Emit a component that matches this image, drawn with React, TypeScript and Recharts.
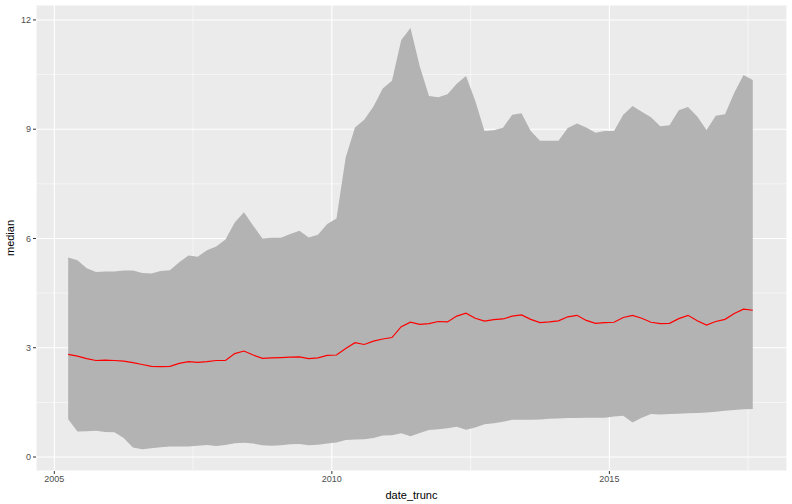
import {
  ComposedChart,
  Area,
  Line,
  XAxis,
  YAxis,
  CartesianGrid,
  Label,
} from 'recharts';

// bi-monthly sample dates (YYYY-MM)
const MONTHS = [
  '2005-04', '2005-06', '2005-08', '2005-10', '2005-12',
  '2006-02', '2006-04', '2006-06', '2006-08', '2006-10', '2006-12',
  '2007-02', '2007-04', '2007-06', '2007-08', '2007-10', '2007-12',
  '2008-02', '2008-04', '2008-06', '2008-08', '2008-10', '2008-12',
  '2009-02', '2009-04', '2009-06', '2009-08', '2009-10', '2009-12',
  '2010-02', '2010-04', '2010-06', '2010-08', '2010-10', '2010-12',
  '2011-02', '2011-04', '2011-06', '2011-08', '2011-10', '2011-12',
  '2012-02', '2012-04', '2012-06', '2012-08', '2012-10', '2012-12',
  '2013-02', '2013-04', '2013-06', '2013-08', '2013-10', '2013-12',
  '2014-02', '2014-04', '2014-06', '2014-08', '2014-10', '2014-12',
  '2015-02', '2015-04', '2015-06', '2015-08', '2015-10', '2015-12',
  '2016-02', '2016-04', '2016-06', '2016-08', '2016-10', '2016-12',
  '2017-02', '2017-04', '2017-06', '2017-08',
];

const LOWER = [
  1.04, 0.70, 0.71, 0.72, 0.69,
  0.68, 0.52, 0.26, 0.21, 0.24, 0.27,
  0.29, 0.29, 0.29, 0.31, 0.33, 0.30,
  0.33, 0.38, 0.39, 0.37, 0.32, 0.31,
  0.32, 0.35, 0.36, 0.32, 0.34, 0.37,
  0.40, 0.47, 0.48, 0.49, 0.52, 0.59,
  0.60, 0.65, 0.57, 0.66, 0.74, 0.76,
  0.79, 0.83, 0.75, 0.81, 0.90, 0.93,
  0.97, 1.02, 1.02, 1.02, 1.03, 1.05,
  1.06, 1.07, 1.07, 1.08, 1.08, 1.08,
  1.11, 1.13, 0.95, 1.08, 1.18, 1.17,
  1.18, 1.19, 1.20, 1.21, 1.22, 1.24,
  1.27, 1.29, 1.31, 1.32,
];

const MEDIAN = [
  2.82, 2.77, 2.70, 2.65, 2.66,
  2.65, 2.63, 2.59, 2.54, 2.49, 2.48,
  2.49, 2.57, 2.62, 2.60, 2.62, 2.65,
  2.65, 2.84, 2.91, 2.80, 2.71, 2.72,
  2.73, 2.74, 2.75, 2.70, 2.72, 2.79,
  2.80, 2.98, 3.14, 3.09, 3.18, 3.24,
  3.28, 3.58, 3.70, 3.64, 3.66, 3.72,
  3.71, 3.87, 3.95, 3.81, 3.73, 3.77,
  3.79, 3.87, 3.90, 3.78, 3.69, 3.71,
  3.74, 3.85, 3.89, 3.75, 3.67, 3.69,
  3.70, 3.83, 3.89, 3.81, 3.70, 3.66,
  3.67, 3.80, 3.89, 3.74, 3.62, 3.72,
  3.78, 3.94, 4.06, 4.03,
];

const UPPER = [
  5.48, 5.40, 5.18, 5.08, 5.09,
  5.09, 5.12, 5.12, 5.05, 5.04, 5.11,
  5.13, 5.35, 5.53, 5.50, 5.68, 5.78,
  5.97, 6.44, 6.72, 6.35, 6.00, 6.02,
  6.02, 6.12, 6.21, 6.03, 6.10, 6.40,
  6.55, 8.23, 9.05, 9.26, 9.62, 10.12,
  10.33, 11.45, 11.78, 10.73, 9.91, 9.88,
  9.96, 10.25, 10.46, 9.78, 8.95, 8.97,
  9.04, 9.40, 9.44, 8.95, 8.68, 8.68,
  8.68, 9.03, 9.16, 9.05, 8.90, 8.95,
  8.95, 9.40, 9.64, 9.48, 9.33, 9.08,
  9.11, 9.52, 9.61, 9.35, 8.98, 9.37,
  9.41, 10.00, 10.49, 10.35,
];

const X_TICKS = [2005, 2010, 2015];
const X_MINOR = [2007.5, 2012.5, 2017.5];
const Y_TICKS = [0, 3, 6, 9, 12];
const Y_MINOR = [1.5, 4.5, 7.5, 10.5];

const toYear = (m: string) => {
  const [y, mo] = m.split('-').map(Number);
  return y + (mo - 1) / 12;
};

const data = MONTHS.map((m, i) => ({
  date: toYear(m),
  band: [LOWER[i], UPPER[i]],
  median: MEDIAN[i],
}));

const FONT = '"Liberation Sans", Arial, sans-serif';
const tickStyle = { fontSize: 9, fill: '#4D4D4D', fontFamily: FONT };

export default function App() {
  return (
    <div style={{ position: 'absolute', left: 0, top: 0, width: 792, height: 504, background: '#fff' }}>
      <ComposedChart
        width={792}
        height={504}
        data={data}
        margin={{ top: 5, right: 5, bottom: 0, left: 0 }}
      >
        <CartesianGrid
          fill="#EBEBEB"
          fillOpacity={1}
          stroke="#FFFFFF"
          strokeWidth={0.55}
          horizontalValues={Y_MINOR}
          verticalValues={X_MINOR}
        />
        <CartesianGrid stroke="#FFFFFF" strokeWidth={1.1} fill="none" />
        <XAxis
          type="number"
          dataKey="date"
          domain={[2004.67, 2018.2]}
          allowDataOverflow
          ticks={X_TICKS}
          height={33}
          axisLine={false}
          tickSize={3}
          tickMargin={2}
          tickLine={{ stroke: '#333333', strokeWidth: 1 }}
          tick={tickStyle}
        >
          <Label
            value="date_trunc"
            position="insideBottom"
            offset={5}
            style={{ fontSize: 11, fill: '#000', fontFamily: FONT }}
          />
        </XAxis>
        <YAxis
          type="number"
          domain={[-0.384, 12.41]}
          allowDataOverflow
          ticks={Y_TICKS}
          width={36}
          axisLine={false}
          tickSize={3}
          tickMargin={2}
          tickLine={{ stroke: '#333333', strokeWidth: 1 }}
          tick={tickStyle}
        >
          <Label
            value="median"
            position="insideLeft"
            content={({ viewBox }: any) => {
              const cx = viewBox.x + 14;
              const cy = viewBox.y + viewBox.height / 2;
              return (
                <text
                  x={cx}
                  y={cy}
                  transform={`rotate(-90, ${cx}, ${cy})`}
                  textAnchor="middle"
                  style={{ fontSize: 11, fill: '#000', fontFamily: FONT }}
                >
                  median
                </text>
              );
            }}
          />
        </YAxis>
        <Area
          type="linear"
          dataKey="band"
          stroke="none"
          fill="#B3B3B3"
          fillOpacity={1}
          isAnimationActive={false}
          activeDot={false}
        />
        <Line
          type="linear"
          dataKey="median"
          stroke="#FF0000"
          strokeWidth={1.2}
          dot={false}
          activeDot={false}
          isAnimationActive={false}
        />
      </ComposedChart>
    </div>
  );
}
